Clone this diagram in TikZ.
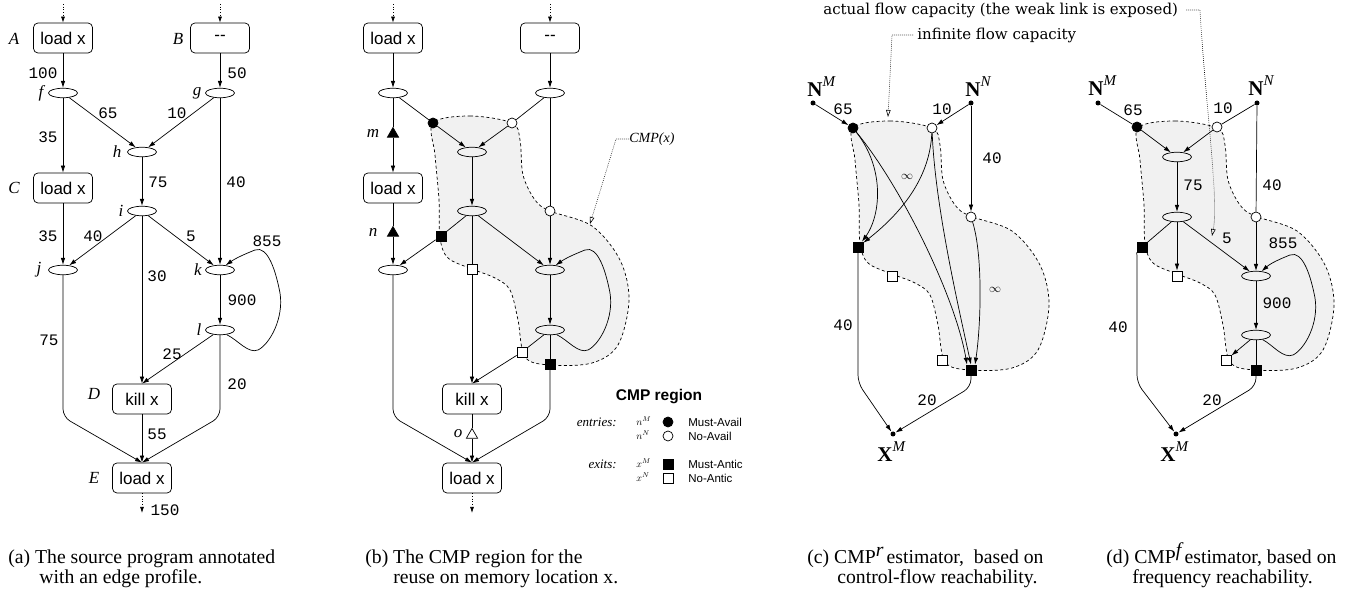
\documentclass[tikz,border=0pt]{standalone}
\usepackage{fontspec}
\setmainfont{Liberation Serif}
\setsansfont{Liberation Sans}
\setmonofont{Liberation Mono}
\newfontfamily\dvserif{DejaVu Serif}
\usetikzlibrary{shapes.geometric,arrows.meta}
\definecolor{regfill}{gray}{0.945}
\tikzset{
  box/.style={draw, rounded corners=4.5pt, minimum width=59pt, minimum height=30pt, inner sep=0pt, font=\sffamily\fontsize{17}{17}\selectfont},
  ell/.style={draw, ellipse, minimum width=29pt, minimum height=9.5pt, inner sep=0pt},
  arr/.style={-{Latex[length=7pt,width=4.5pt]}},
  inarr/.style={dotted, -{Latex[length=6pt,width=4pt]}},
  num/.style={font=\ttfamily\fontsize{16}{16}\selectfont, inner sep=0pt},
  nm/.style={font=\itshape\fontsize{17}{17}\selectfont, inner sep=0pt},
  inf/.style={font=\fontsize{13}{13}\selectfont, inner sep=0pt},
  bcirc/.style={circle, draw, fill=black, minimum size=10pt, inner sep=0pt},
  wcirc/.style={circle, draw, fill=white, minimum size=10pt, inner sep=0pt},
  bsq/.style={rectangle, draw, fill=black, minimum size=10pt, inner sep=0pt},
  wsq/.style={rectangle, draw, fill=white, minimum size=10pt, inner sep=0pt},
  btri/.style={regular polygon, regular polygon sides=3, draw, fill=black, minimum size=13pt, inner sep=0pt},
  wtri/.style={regular polygon, regular polygon sides=3, draw, fill=white, minimum size=13pt, inner sep=0pt},
  sdot/.style={circle, fill=black, minimum size=5pt, inner sep=0pt},
  region/.style={draw, fill=regfill, dash pattern=on 3pt off 2.5pt},
  leader/.style={line width=0.6pt, dash pattern=on 0.7pt off 1.3pt, -{Triangle[open,length=7pt,width=4.5pt]}},
  bigN/.style={font=\fontsize{21}{21}\selectfont, inner sep=0pt, anchor=base west},
  captxt/.style={font=\fontsize{19.7}{20}\selectfont, inner sep=0pt, anchor=base west},
  annot/.style={font=\dvserif\fontsize{15}{15}\selectfont, inner sep=0pt, anchor=west},
  legtxt/.style={font=\sffamily\fontsize{11.5}{12}\selectfont, inner sep=0pt, anchor=west},
  legit/.style={font=\itshape\fontsize{13}{13}\selectfont, inner sep=0pt, anchor=east},
  legsm/.style={font=\fontsize{10}{10}\selectfont, inner sep=0pt, anchor=west},
}
\newcommand{\supM}[1]{\raisebox{10pt}{\fontsize{15}{15}\selectfont\itshape #1}}
\newcommand{\cmpregion}{\path[region] plot[smooth cycle, tension=0.55] coordinates {(103,123) (140,116) (182,123) (190,140) (193,175) (205,200) (220,211) (262,226) (290,260) (299,300) (288,345) (262,363) (220,365) (195,357) (188,320) (180,290) (165,278) (142,269) (118,258) (110,238) (109,200) (105,155)};}
\newcommand{\loopedge}[2]{\draw[arr] (#1.-35) .. controls (238,340) and (248,354) .. (258,350) .. controls (270,344) and (284,318) .. (280,293) .. controls (276,272) and (268,245) .. (255,250) .. controls (245,254) and (236,258) .. (#2.40);}
\begin{document}
\begin{tikzpicture}[x=1pt,y=-1pt,line width=0.7pt]
\useasboundingbox (0,0) rectangle (1353,593);
% ================= (a)
\node[box] (aA) at (63,38) {load x};
\node[box] (aB) at (220,38) {-{}-};
\node[ell] (af) at (63,93) {};
\node[ell] (ag) at (220,93) {};
\node[ell] (ah) at (142,152) {};
\node[box] (aC) at (63,188) {load x};
\node[ell] (ai) at (142,211) {};
\node[ell] (aj) at (63,270) {};
\node[ell] (ak) at (220,270) {};
\node[ell] (al) at (220,330) {};
\node[box] (aD) at (142,399) {kill x};
\node[box] (aE) at (142,478) {load x};
\coordinate (aAin) at (63,4);
\coordinate (aBin) at (220,4);
\coordinate (aEout) at (142,513);
\coordinate (ajb) at (63,417);
\coordinate (alb) at (220,417);
\draw[inarr] (aAin) -- (aA);
\draw[inarr] (aBin) -- (aB);
\draw[inarr] (aE) -- (aEout);
\draw[arr] (aA) -- (af);
\draw[arr] (aB) -- (ag);
\draw[arr] (af) -- (aC);
\draw[arr] (af) -- (ah);
\draw[arr] (ag) -- (ah);
\draw[arr] (ag) -- (ak);
\draw[arr] (ah) -- (ai);
\draw[arr] (aC) -- (aj);
\draw[arr] (ai) -- (aj);
\draw[arr] (ai) -- (ak);
\draw[arr] (ai) -- (aD);
\draw[arr] (ak) -- (al);
\draw[arr] (al) -- (aD.north);
\draw[arr,rounded corners=8pt] (aj) -- (ajb) -- (aE.north);
\draw[arr,rounded corners=8pt] (al) -- (alb) -- (aE.north);
\draw[arr] (aD) -- (aE);
\loopedge{al}{ak}
\node[nm] (laA) at (14,39) {A};
\node[nm] (laB) at (178,39) {B};
\node[nm] (laf) at (41,93) {f};
\node[nm] (lag) at (197,93) {g};
\node[nm] (lah) at (117,152) {h};
\node[nm] (laC) at (14,188) {C};
\node[nm] (lai) at (121,211) {i};
\node[nm] (laj) at (39,270) {j};
\node[nm] (lak) at (198,270) {k};
\node[nm] (lal) at (199,330) {l};
\node[nm] (laD) at (94,394) {D};
\node[nm] (laE) at (94,478) {E};
\node[num] (na1) at (43,73) {100};
\node[num] (na2) at (237,73) {50};
\node[num] (na3) at (108,113) {65};
\node[num] (na4) at (177,113) {10};
\node[num] (na5) at (48,137) {35};
\node[num] (na6) at (158,182) {75};
\node[num] (na7) at (236,182) {40};
\node[num] (na8) at (48,236) {35};
\node[num] (na9) at (93,236) {40};
\node[num] (na10) at (191,236) {5};
\node[num] (na11) at (267,241) {855};
\node[num] (na12) at (157,276) {30};
\node[num] (na13) at (242,300) {900};
\node[num] (na14) at (49,340) {75};
\node[num] (na15) at (172,354) {25};
\node[num] (na16) at (237,384) {20};
\node[num] (na17) at (157,434) {55};
\node[num] (na18) at (165,510) {150};
\node[captxt] (capa1) at (8,563) {(a) The source program annotated};
\node[captxt] (capa2) at (39,583) {with an edge profile.};
% ================= (b)
\begin{scope}[shift={(330,0)}]
\cmpregion
\node[box] (bA) at (63,38) {load x};
\node[box] (bB) at (220,38) {-{}-};
\node[ell] (bf) at (63,93) {};
\node[ell] (bg) at (220,93) {};
\node[ell] (bh) at (142,152) {};
\node[box] (bC) at (63,188) {load x};
\node[ell] (bi) at (142,211) {};
\node[ell] (bj) at (63,270) {};
\node[ell] (bk) at (220,270) {};
\node[ell] (bl) at (220,330) {};
\node[box] (bD) at (142,399) {kill x};
\node[box] (bE) at (142,478) {load x};
\node[bcirc] (bBC) at (103,123) {};
\node[wcirc] (bWC) at (182,123) {};
\node[wcirc] (bWC2) at (220,211) {};
\node[bsq] (bBS1) at (111,236) {};
\node[wsq] (bWS1) at (142,269) {};
\node[wsq] (bWS2) at (192,352) {};
\node[bsq] (bBS2) at (220,364) {};
\node[btri] (bm) at (63,134) {};
\node[btri] (bn) at (63,233) {};
\node[wtri] (bo) at (142,435) {};
\node[nm] (lbm) at (43,133) {m};
\node[nm] (lbn) at (43,232) {n};
\node[nm] (lbo) at (128,434) {o};
\coordinate (bAin) at (63,4);
\coordinate (bBin) at (220,4);
\coordinate (bEout) at (142,513);
\coordinate (bjb) at (63,417);
\coordinate (blb) at (220,417);
\draw[inarr] (bAin) -- (bA);
\draw[inarr] (bBin) -- (bB);
\draw[inarr] (bE) -- (bEout);
\draw[arr] (bA) -- (bf);
\draw[arr] (bB) -- (bg);
\draw (bf) -- (bBC);
\draw[arr] (bBC) -- (bh);
\draw (bg) -- (bWC);
\draw[arr] (bWC) -- (bh);
\draw (bf) -- (bm);
\draw[arr] (bm) -- (bC);
\draw (bC) -- (bn);
\draw[arr] (bn) -- (bj);
\draw[arr] (bh) -- (bi);
\draw (bi) -- (bBS1);
\draw[arr] (bBS1) -- (bj);
\draw (bi) -- (bWS1);
\draw[arr] (bWS1) -- (bD);
\draw[arr] (bi) -- (bk);
\draw (bg) -- (bWC2);
\draw[arr] (bWC2) -- (bk);
\draw[arr] (bk) -- (bl);
\loopedge{bl}{bk}
\draw (bl) -- (bWS2);
\draw[arr] (bWS2) -- (bD.north);
\draw (bl) -- (bBS2);
\draw[arr,rounded corners=8pt] (bBS2) -- (blb) -- (bE.north);
\draw[arr,rounded corners=8pt] (bj) -- (bjb) -- (bE.north);
\draw (bD) -- (bo);
\draw[arr] (bo) -- (bE);
\node[captxt] (capb1) at (35,563) {(b) The CMP region for the};
\node[captxt] (capb2) at (63,583) {reuse on memory location x.};
\end{scope}
% CMP(x) label with leader
\node[font=\itshape\fontsize{14}{14}\selectfont, inner sep=0pt, anchor=west] (cmpx) at (629,139) {CMP(x)};
\coordinate (cmpB) at (616,139);
\coordinate (cmpC) at (590,224);
\draw[leader] (cmpx.west) -- (cmpB) -- (cmpC);
% legend
\node[font=\sffamily\bfseries\fontsize{15.5}{16}\selectfont, inner sep=0pt] (legt) at (659,397) {CMP region};
\node[legit] (lege) at (617,422) {entries:};
\node[legit] (legx) at (617,464) {exits:};
\node[legsm] (legnm) at (636,421) {$n^M$};
\node[legsm] (legnn) at (636,435) {$n^N$};
\node[legsm] (legxm) at (636,463) {$x^M$};
\node[legsm] (legxn) at (636,477) {$x^N$};
\node[bcirc] (legbc) at (668,422) {};
\node[wcirc] (legwc) at (668,436) {};
\node[bsq] (legbs) at (668,464) {};
\node[wsq] (legws) at (668,478) {};
\node[legtxt] (legt1) at (688,422) {Must-Avail};
\node[legtxt] (legt2) at (688,436) {No-Avail};
\node[legtxt] (legt3) at (688,464) {Must-Antic};
\node[legtxt] (legt4) at (688,478) {No-Antic};
% ================= (c)
\begin{scope}[shift={(750,5)}]
\cmpregion
\node[sdot] (cNM) at (63,98) {};
\node[sdot] (cNN) at (221,98) {};
\node[bigN] (lcNM) at (57,92) {\textbf{N}\supM{M}};
\node[bigN] (lcNN) at (215,92) {\textbf{N}\supM{N}};
\node[bcirc] (cBC) at (103,123) {};
\node[wcirc] (cWC) at (182,123) {};
\node[wcirc] (cWC2) at (221,212) {};
\node[bsq] (cBS1) at (108,242) {};
\node[wsq] (cWS1) at (142,271) {};
\node[wsq] (cWS2) at (192,355) {};
\node[bsq] (cBS2) at (221,365) {};
\node[sdot] (cX) at (143,429) {};
\node[bigN] (lcX) at (127,457) {\textbf{X}\supM{M}};
\coordinate (cb1) at (108,378);
\coordinate (cb2) at (221,382);
\draw[arr] (cNM) -- (cBC);
\draw[arr] (cNN) -- (cWC);
\draw[arr] (cNN) -- (cWC2);
\draw[arr] (cBC) .. controls (136,165) and (130,212) .. (cBS1);
\draw[arr] (cWC) .. controls (180,170) and (155,205) .. (cBS1);
\draw[arr] (cBC) .. controls (150,180) and (205,290) .. ([xshift=-4pt]cBS2.north);
\draw[arr] (cWC) .. controls (185,200) and (208,300) .. (cBS2.north);
\draw[arr] (cWC2) .. controls (233,250) and (231,320) .. ([xshift=4pt]cBS2.north);
\draw[arr,rounded corners=8pt] (cBS1) -- (cb1) -- (cX);
\draw[arr,rounded corners=8pt] (cBS2) -- (cb2) -- (cX);
\node[num] (nc1) at (93,104) {65};
\node[num] (nc2) at (192,104) {10};
\node[num] (nc3) at (242,153) {40};
\node[inf] (nc4) at (157,172) {$\infty$};
\node[inf] (nc5) at (245,285) {$\infty$};
\node[num] (nc6) at (93,320) {40};
\node[num] (nc7) at (177,395) {20};
\node[captxt] (capc1) at (57,558) {(c) CMP\raisebox{6pt}{\itshape r}\,estimator,\ \ based on};
\node[captxt] (capc2) at (87,578) {control-flow reachability.};
\end{scope}
% ================= (d)
\begin{scope}[shift={(1035,5)}]
\cmpregion
\node[sdot] (dNM) at (63,98) {};
\node[sdot] (dNN) at (222,98) {};
\node[bigN] (ldNM) at (53,91) {\textbf{N}\supM{M}};
\node[bigN] (ldNN) at (213,91) {\textbf{N}\supM{N}};
\node[bcirc] (dBC) at (102,122) {};
\node[wcirc] (dWC) at (182,122) {};
\node[ell] (dh) at (142,152) {};
\node[ell] (di) at (142,212) {};
\node[wcirc] (dWC2) at (221,212) {};
\node[bsq] (dBS1) at (107,242) {};
\node[wsq] (dWS1) at (142,271) {};
\node[ell] (dk) at (221,271) {};
\node[ell] (dl) at (221,330) {};
\node[wsq] (dWS2) at (191,355) {};
\node[bsq] (dBS2) at (221,365) {};
\node[sdot] (dX) at (141,429) {};
\node[bigN] (ldX) at (125,457) {\textbf{X}\supM{M}};
\coordinate (db0) at (102,265);
\coordinate (db1) at (102,378);
\coordinate (db2) at (221,381);
\draw (dNM) -- (dBC);
\draw (dNN) -- (dWC);
\draw (dNN) -- (dWC2);
\draw[arr] (dBC) -- (dh);
\draw[arr] (dWC) -- (dh);
\draw[arr] (dh) -- (di);
\draw (di) -- (dBS1);
\draw[arr] (di) -- (dWS1);
\draw[arr] (di) -- (dk);
\draw[arr] (dWC2) -- (dk);
\draw[arr] (dk) -- (dl);
\loopedge{dl}{dk}
\draw[arr] (dl) -- (dWS2);
\draw (dl) -- (dBS2);
\draw[arr,rounded corners=8pt] (dBS1.south west) .. controls (102,250) .. (db0) -- (db1) -- (dX);
\draw[arr,rounded corners=8pt] (dBS2) -- (db2) -- (dX);
\node[num] (nd1) at (98,105) {65};
\node[num] (nd2) at (188,103) {10};
\node[num] (nd3) at (237,180) {40};
\node[num] (nd4) at (158,180) {75};
\node[num] (nd5) at (192,233) {5};
\node[num] (nd6) at (248,238) {855};
\node[num] (nd7) at (242,298) {900};
\node[num] (nd8) at (83,322) {40};
\node[num] (nd9) at (177,395) {20};
\node[captxt] (capd1) at (71,558) {(d) CMP\raisebox{6pt}{\itshape f}\,estimator, based on};
\node[captxt] (capd2) at (97,578) {frequency reachability.};
\end{scope}
% ================= annotations
\node[annot] (ann1) at (823,10) {actual flow capacity (the weak link is exposed)};
\node[annot] (ann2) at (917,35) {infinite flow capacity};
\coordinate (ann1a) at (1200,10);
\coordinate (ann1t) at (1212,236);
\coordinate (ann2a) at (892,35);
\coordinate (ann2t) at (888,117);
\draw[leader] ([xshift=8pt]ann1.east) -- (ann1a) .. controls (1205,100) and (1219,200) .. (ann1t);
\draw[leader] ([xshift=-4pt]ann2.west) -- (ann2a) -- (ann2t);
\end{tikzpicture}
\end{document}
